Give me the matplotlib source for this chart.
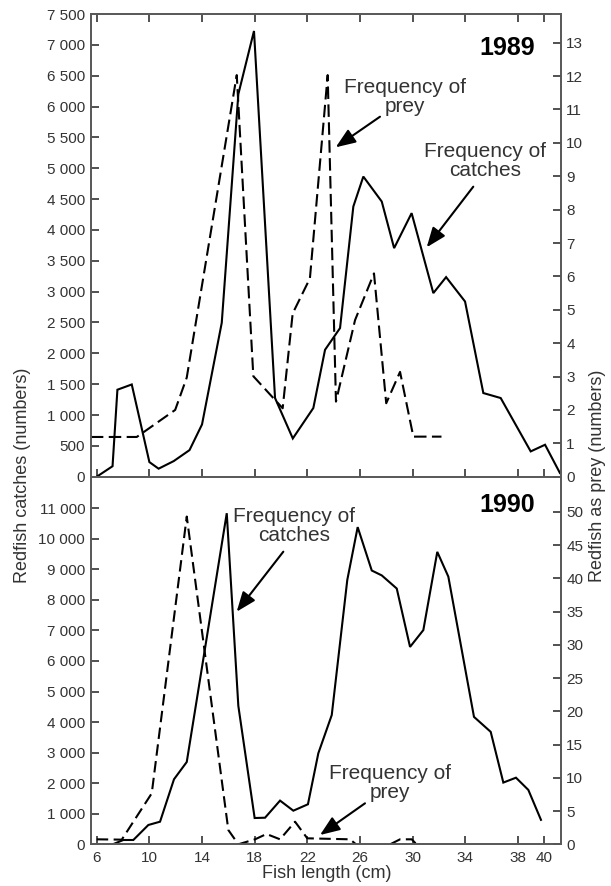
import matplotlib
matplotlib.use('Agg')
import matplotlib.pyplot as plt
import numpy as np
from matplotlib.ticker import FuncFormatter, FixedLocator

plt.rcParams['font.family'] = ['Liberation Sans', 'DejaVu Sans']

# ---------------- data ----------------
len_catch_1989 = [6.0, 7.2, 7.57, 8.66, 10.0, 10.7, 11.85, 13.05, 14.0, 15.5, 16.76, 17.95,
                  19.55, 20.9, 22.46, 23.35, 24.49, 25.5, 26.26, 27.66, 28.6, 29.93, 31.58,
                  32.55, 33.99, 35.38, 36.7, 38.98, 40.07, 41.2]
catch_1989 = [0, 170, 1410, 1495, 237, 130, 253, 431, 847, 2495, 6200, 7225,
              1275, 620, 1113, 2057, 2409, 4379, 4865, 4460, 3705, 4272, 2976,
              3235, 2840, 1356, 1275, 410, 518, 60]

len_prey_1989 = [5.55, 9.04, 11.96, 12.84, 16.64, 17.9, 20.13, 20.89, 22.2, 23.55, 24.18,
                 25.63, 27.07, 28.0, 29.05, 30.06, 32.2]
prey_1989 = [1.19, 1.19, 2.0, 2.97, 12.03, 3.01, 2.05, 4.89, 5.94, 12.03, 2.25,
             4.69, 6.09, 2.2, 3.14, 1.2, 1.2]

len_catch_1990 = [7.22, 8.02, 8.78, 9.92, 10.81, 11.87, 12.84, 15.88, 16.76, 18.0, 18.79,
                  19.93, 20.94, 22.05, 22.84, 23.86, 25.04, 25.83, 26.9, 27.66, 28.8, 29.81,
                  30.82, 31.88, 32.72, 34.67, 35.94, 36.9, 37.86, 38.8, 39.76]
catch_1990 = [0, 141, 141, 632, 740, 2128, 2694, 10835, 4530, 860, 870,
              1430, 1100, 1310, 2980, 4230, 8650, 10380, 8960, 8800, 8370, 6460,
              7010, 9570, 8760, 4170, 3680, 2020, 2180, 1780, 800]

len_prey_1990 = [6.0, 7.9, 10.18, 12.84, 16.0, 16.76, 18.03, 18.9, 19.93, 21.07, 22.0,
                 25.25, 25.7, np.nan, 28.3, 29.05, 29.94, 30.3]
prey_1990 = [0.75, 0.7, 7.67, 49.3, 2.15, 0, 0.75, 1.55, 0.75, 3.4, 0.9,
             0.75, 0, np.nan, 0, 0.75, 0.75, 0]

x_ticks = [6, 10, 14, 18, 22, 26, 30, 34, 38, 40]
left_ticks_1989 = list(range(0, 7501, 500))
right_ticks_1989 = list(range(0, 14))
left_ticks_1990 = list(range(0, 11001, 1000))
right_ticks_1990 = list(range(0, 51, 5))

# ---------------- figure ----------------
W_PX, H_PX = 611, 886
fig = plt.figure(figsize=(W_PX / 100, H_PX / 100), dpi=100)

x0, x1 = 90.7, 560.7
yt_top, yt_mid, yt_bot = 14.0, 476.7, 844.3
ax1 = fig.add_axes([x0 / W_PX, 1 - yt_mid / H_PX, (x1 - x0) / W_PX, (yt_mid - yt_top) / H_PX])
ax2 = fig.add_axes([x0 / W_PX, 1 - yt_bot / H_PX, (x1 - x0) / W_PX, (yt_bot - yt_mid) / H_PX])
ax1r = ax1.twinx()
ax2r = ax2.twinx()

XLIM = (5.54, 41.26)
spine_col = '#5a5a5a'
txt_col = '#333333'
tick_fs = 11
lw_data = 1.5

thousands = FuncFormatter(lambda v, p: f"{int(round(v)):,}".replace(",", " "))

for ax in (ax1, ax2, ax1r, ax2r):
    ax.set_xlim(*XLIM)
    for s in ax.spines.values():
        s.set_color(spine_col)
        s.set_linewidth(1.3)
    ax.patch.set_visible(False)

ax1.set_ylim(0, 7500)
ax1r.set_ylim(0, 13.86)
ax2.set_ylim(0, 12030)
ax2r.set_ylim(0, 55.3)

for ax in (ax2, ax2r):
    ax.spines['top'].set_visible(False)

# data lines
ax1.plot(len_catch_1989, catch_1989, color='black', lw=lw_data, solid_joinstyle='miter')
ax1r.plot(len_prey_1989, prey_1989, color='black', lw=lw_data, linestyle=(0, (6, 2.6)))
ax2.plot(len_catch_1990, catch_1990, color='black', lw=lw_data, solid_joinstyle='miter')
ax2r.plot(len_prey_1990, prey_1990, color='black', lw=lw_data, linestyle=(0, (5.5, 2.6)))

# ticks
tick_kw = dict(direction='in', length=6, width=1.1, color='#222222',
               labelsize=tick_fs, labelcolor=txt_col, pad=4)
ax1.set_xticks(x_ticks)
ax1.tick_params(axis='x', top=True, bottom=True, labelbottom=False, labeltop=False, **tick_kw)
ax1.set_yticks(left_ticks_1989)
ax1.yaxis.set_major_formatter(thousands)
ax1.tick_params(axis='y', left=True, right=False, **tick_kw)
ax1r.set_yticks(right_ticks_1989)
ax1r.tick_params(axis='y', right=True, left=False, **tick_kw)
ax1r.tick_params(axis='x', top=False, bottom=False, labelbottom=False)

ax2.set_xticks(x_ticks)
ax2.tick_params(axis='x', top=False, bottom=True, labelbottom=True, **{**tick_kw, 'pad': 5})
ax2.set_yticks(left_ticks_1990)
ax2.yaxis.set_major_formatter(thousands)
ax2.tick_params(axis='y', left=True, right=False, **tick_kw)
ax2r.set_yticks(right_ticks_1990)
ax2r.tick_params(axis='y', right=True, left=False, **tick_kw)
ax2r.tick_params(axis='x', top=False, bottom=False, labelbottom=False)

# axis labels
lab_fs = 13
fig.text(23 / W_PX, 1 - 475.5 / H_PX, 'Redfish catches (numbers)', rotation=90,
         ha='center', va='center', fontsize=lab_fs, color=txt_col)
fig.text(597.5 / W_PX, 1 - 475.5 / H_PX, 'Redfish as prey (numbers)', rotation=90,
         ha='center', va='center', fontsize=lab_fs, color=txt_col)
fig.text(327 / W_PX, 1 - 874 / H_PX, 'Fish length (cm)', ha='center', va='center',
         fontsize=lab_fs, color=txt_col)

# year labels
ax1.text(0.8864, 0.9259, '1989', transform=ax1.transAxes, ha='center', va='center',
         fontsize=18, fontweight='bold', color='black')
ax2.text(0.8868, 0.9230, '1990', transform=ax2.transAxes, ha='center', va='center',
         fontsize=18, fontweight='bold', color='black')

# annotations
ann_fs = 15
arrow = dict(arrowstyle='-|>,head_length=1.2,head_width=0.47', mutation_scale=10,
             lw=1.5, color='black', shrinkA=0, shrinkB=0)


def annotate(ax, text, text_xy, tail_xy, tip_xy):
    ax.text(text_xy[0], text_xy[1], text, transform=ax.transAxes, ha='center', va='center',
            fontsize=ann_fs, color=txt_col, linespacing=1.0)
    ax.annotate('', xy=tip_xy, xycoords='axes fraction', xytext=tail_xy,
                textcoords='axes fraction', arrowprops=arrow)


annotate(ax1r, 'Frequency of\nprey', (0.6687, 0.8206), (0.6155, 0.778), (0.5213, 0.7119))
annotate(ax1r, 'Frequency of\ncatches', (0.8389, 0.6816), (0.8140, 0.6268), (0.7149, 0.4958))
annotate(ax2r, 'Frequency of\ncatches', (0.4326, 0.8659), (0.4098, 0.7960), (0.3106, 0.6328))
annotate(ax2r, 'Frequency of\nprey', (0.6368, 0.1681), (0.5836, 0.1115), (0.4879, 0.0253))

fig.savefig('out.png', dpi=100)
